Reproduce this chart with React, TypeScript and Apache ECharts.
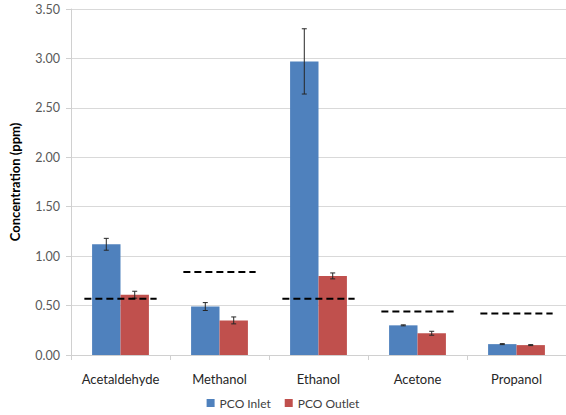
import React, { useEffect, useRef } from "react";
import * as echarts from "echarts";

const categories = ["Acetaldehyde", "Methanol", "Ethanol", "Acetone", "Propanol"];
const inlet = [1.12, 0.49, 2.97, 0.3, 0.11];
const inletErr = [0.06, 0.04, 0.33, 0.005, 0.005];
const outlet = [0.61, 0.35, 0.8, 0.22, 0.1];
const outletErr = [0.035, 0.035, 0.03, 0.02, 0.005];
const limits = [0.57, 0.84, 0.57, 0.44, 0.42];
const yTicks = { min: 0, max: 3.5, interval: 0.5 };

const FONT = "Lato, 'Open Sans', sans-serif";

function errorSeries(values: number[], errs: number[], offset: number) {
  return {
    type: "custom",
    z: 5,
    silent: true,
    data: values.map((v, i) => [i, v, errs[i]]),
    encode: { x: 0, y: 1 },
    renderItem: (params: any, api: any) => {
      const x = api.value(0);
      const v = api.value(1);
      const e = api.value(2);
      const bw = api.size([1, 0])[0];
      const c = api.coord([x, v]);
      const cx = c[0] + offset * bw;
      const top = api.coord([x, v + e])[1];
      const bot = api.coord([x, v - e])[1];
      const style = { stroke: "#262626", lineWidth: 1 };
      return {
        type: "group",
        children: [
          { type: "line", shape: { x1: cx, y1: top, x2: cx, y2: bot }, style },
          { type: "line", shape: { x1: cx - 2.5, y1: top, x2: cx + 2.5, y2: top }, style },
          { type: "line", shape: { x1: cx - 2.5, y1: bot, x2: cx + 2.5, y2: bot }, style },
        ],
      };
    },
  };
}

export default function App() {
  const ref = useRef<HTMLDivElement>(null);
  useEffect(() => {
    if (!ref.current) return;
    const chart = echarts.init(ref.current, undefined, { renderer: "svg" });
    chart.setOption({
      animation: false,
      backgroundColor: "#ffffff",
      textStyle: { fontFamily: FONT },
      grid: { left: 67, right: 0, top: 9, bottom: 60, containLabel: false },
      legend: {
        data: ["PCO Inlet", "PCO Outlet"],
        bottom: 1,
        left: "center",
        itemWidth: 8,
        itemHeight: 8,
        itemGap: 14,
        icon: "rect",
        textStyle: { fontFamily: FONT, fontSize: 12, color: "#404040" },
      },
      xAxis: {
        type: "category",
        data: categories,
        axisLine: { lineStyle: { color: "#d0d0d0" } },
        axisTick: { show: true, length: 5, lineStyle: { color: "#d0d0d0" } },
        axisLabel: { interval: 0, fontFamily: FONT, fontSize: 13, color: "#262626", margin: 17 },
      },
      yAxis: {
        type: "value",
        min: yTicks.min,
        max: yTicks.max,
        interval: yTicks.interval,
        name: "Concentration (ppm)",
        nameLocation: "middle",
        nameGap: 50,
        nameTextStyle: { fontFamily: FONT, fontSize: 13, fontWeight: "bold", color: "#000" },
        axisLine: { show: true, lineStyle: { color: "#d0d0d0" } },
        axisTick: { show: true, length: 5, lineStyle: { color: "#d0d0d0" } },
        splitLine: { lineStyle: { color: "#d9d9d9" } },
        axisLabel: {
          fontFamily: FONT,
          fontSize: 12.5,
          color: "#595959",
          margin: 11,
          formatter: (v: number) => v.toFixed(2),
        },
      },
      series: [
        {
          name: "PCO Inlet",
          type: "bar",
          data: inlet,
          barWidth: "28.7%",
          barGap: "0%",
          itemStyle: { color: "#4F81BD" },
        },
        {
          name: "PCO Outlet",
          type: "bar",
          data: outlet,
          barWidth: "28.7%",
          barGap: "0%",
          itemStyle: { color: "#C0504D" },
        },
        errorSeries(inlet, inletErr, -0.1435),
        errorSeries(outlet, outletErr, 0.1435),
        {
          type: "custom",
          z: 6,
          silent: true,
          data: limits.map((v, i) => [i, v]),
          encode: { x: 0, y: 1 },
          renderItem: (params: any, api: any) => {
            const x = api.value(0);
            const v = api.value(1);
            const bw = api.size([1, 0])[0];
            const c = api.coord([x, v]);
            const half = 0.365 * bw;
            return {
              type: "line",
              shape: { x1: c[0] - half, y1: c[1], x2: c[0] + half, y2: c[1] },
              style: { stroke: "#000", lineWidth: 2, lineDash: [7, 4] },
            };
          },
        },
      ],
    });
    return () => chart.dispose();
  }, []);
  return (
    <div
      ref={ref}
      style={{ position: "fixed", left: 0, top: 0, width: 566, height: 415 }}
    />
  );
}
